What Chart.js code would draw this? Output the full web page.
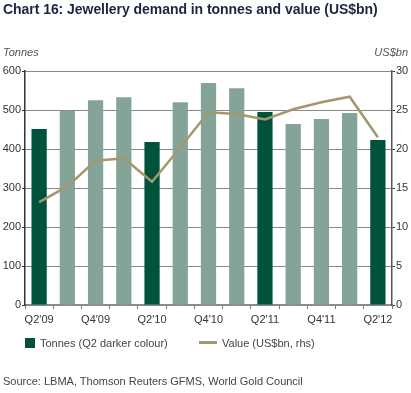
<!DOCTYPE html>
<html><head><meta charset="utf-8">
<script src="https://cdn.jsdelivr.net/npm/chart.js@4.4.1/dist/chart.umd.min.js"></script>
<style>
html,body{margin:0;padding:0;background:#fff;}
body{width:411px;height:393px;position:relative;overflow:hidden;font-family:"Liberation Sans",Arial,sans-serif;}
#wrap{position:absolute;left:0;top:0;width:411px;height:393px;}
.t{position:absolute;white-space:nowrap;}
#title{left:3px;top:1px;font-size:14px;font-weight:bold;color:#1c2540;letter-spacing:-0.05px;}
#ul{left:3px;top:46px;font-size:11px;font-style:italic;color:#555;}
#ur{right:3px;top:46px;font-size:11px;font-style:italic;color:#555;}
#lg1{left:25px;top:338px;width:10px;height:10px;background:#00533a;}
#lg1t{left:40px;top:337px;font-size:11px;color:#444;}
#lg2{left:199px;top:341px;width:18px;height:2.5px;background:#a69670;}
#lg2t{left:222px;top:337px;font-size:11px;color:#444;}
#src{left:3px;top:375px;font-size:11px;color:#444;}
</style></head>
<body>
<div id="wrap"><canvas id="c" width="411" height="393"></canvas></div>
<div class="t" id="title">Chart 16: Jewellery demand in tonnes and value (US$bn)</div>
<div class="t" id="ul">Tonnes</div>
<div class="t" id="ur">US$bn</div>
<div class="t" id="lg1"></div>
<div class="t" id="lg1t">Tonnes (Q2 darker colour)</div>
<div class="t" id="lg2"></div>
<div class="t" id="lg2t">Value (US$bn, rhs)</div>
<div class="t" id="src">Source: LBMA, Thomson Reuters GFMS, World Gold Council</div>
<script>
const categories = ["Q2'09","Q3'09","Q4'09","Q1'10","Q2'10","Q3'10","Q4'10","Q1'11","Q2'11","Q3'11","Q4'11","Q1'12","Q2'12"];
const tonnes = [451,498,525,533,418,520,569,556,495,464,477,492,423];
const valueUSDbn = [13.2,15.2,18.5,18.8,15.8,20.2,24.7,24.5,23.8,25.1,26.0,26.7,21.5];
const leftTicks = [0,100,200,300,400,500,600];
const rightTicks = [0,5,10,15,20,25,30];

const DARK = '#00533a', LIGHT = '#85a498', GOLD = '#a69670';
const barColors = categories.map(c => c.startsWith('Q2') ? DARK : LIGHT);
const FONT = {family:'"Liberation Sans", Arial, sans-serif', size:11};

new Chart(document.getElementById('c'), {
  data: {
    labels: categories,
    datasets: [
      {type:'line', label:'Value (US$bn, rhs)', data:valueUSDbn, yAxisID:'y1',
       borderColor:GOLD, borderWidth:2.5, pointRadius:0, tension:0, order:0},
      {type:'bar', label:'Tonnes (Q2 darker colour)', data:tonnes, yAxisID:'y',
       backgroundColor:barColors, categoryPercentage:1, barPercentage:0.54, order:1}
    ]
  },
  options: {
    responsive:false, animation:false,
    layout:{padding:{top:71,left:0,right:0,bottom:0}},
    plugins:{legend:{display:false}, tooltip:{enabled:false}, title:{display:false}},
    scales:{
      x:{
        offset:true,
        grid:{display:true, offset:true, drawOnChartArea:false, drawTicks:true, tickLength:4, color:'#777', lineWidth:1},
        border:{display:true, color:'#8a8a8a', width:2},
        ticks:{autoSkip:false, maxRotation:0, padding:4, color:'#333', font:FONT,
          callback:(v,i)=> i%2===0 ? categories[i] : ''},
        afterFit:(s)=>{s.height=88;}
      },
      y:{
        position:'left', min:0, max:600,
        afterBuildTicks:(s)=>{s.ticks = leftTicks.map(v=>({value:v}));},
        grid:{color:'#111', lineWidth:1, tickLength:3, tickColor:'#333', tickBorderDash:[], drawTicks:true},
        border:{display:true, color:'#333', width:1.5, dash:[1,1]},
        ticks:{padding:1, color:'#333', font:FONT},
        afterFit:(s)=>{s.width=25;}
      },
      y1:{
        position:'right', min:0, max:30,
        afterBuildTicks:(s)=>{s.ticks = rightTicks.map(v=>({value:v}));},
        grid:{drawOnChartArea:false, tickLength:3, color:'#333'},
        border:{display:true, color:'#555', width:1.5},
        ticks:{padding:1, color:'#333', font:FONT},
        afterFit:(s)=>{s.width=19;}
      }
    }
  }
});
</script>
</body></html>
